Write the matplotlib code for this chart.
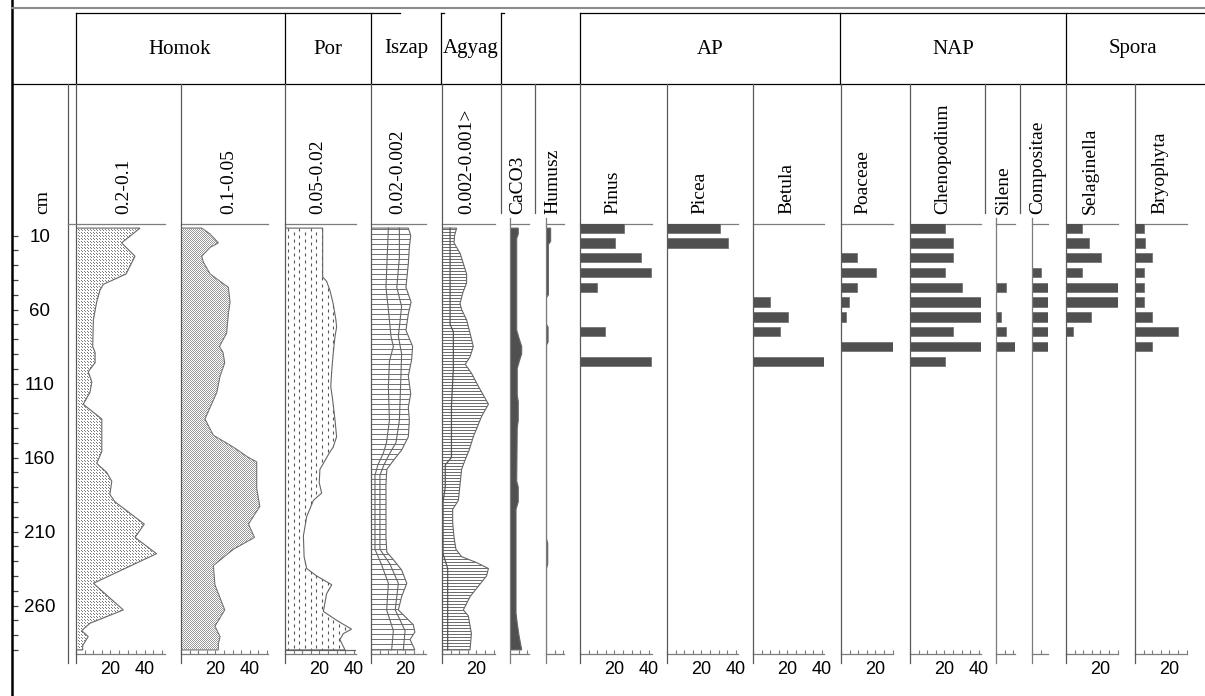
import matplotlib
matplotlib.use('Agg')
import matplotlib.pyplot as plt
import numpy as np
from matplotlib.patches import Polygon
from matplotlib.collections import LineCollection
from matplotlib.ticker import FixedLocator, MultipleLocator

# ---------------------------------------------------------------- data
group_labels = ['Homok', 'Por', 'Iszap', 'Agyag', 'AP', 'NAP', 'Spora']
column_labels = ['0.2-0.1', '0.1-0.05', '0.05-0.02', '0.02-0.002', '0.002-0.001>',
                 'CaCO3', 'Humusz', 'Pinus', 'Picea', 'Betula', 'Poaceae',
                 'Chenopodium', 'Silene', 'Compositae', 'Selaginella', 'Bryophyta']
depth_label = 'cm'
depth_major = [10, 60, 110, 160, 210, 260]
depth_minor = list(range(20, 300, 10))

# sediment fractions (%), depth in cm
h1_depth = [5, 15, 24, 36, 43, 47, 55, 67, 85, 89, 96, 102, 109, 116, 124, 134, 156,
            164, 170, 176, 185, 190, 205, 214, 225, 245, 263, 272, 277, 281, 287, 290]
h1_val = [37.2, 26.5, 34.3, 29.1, 15.9, 13.9, 12.0, 10.1, 9.7, 11.1, 11.1, 7.1, 9.2, 8.1,
          4.2, 15.0, 15.0, 12.0, 17.8, 20.8, 19.7, 22.7, 39.7, 34.3, 46.8, 10.1, 27.5,
          8.1, 3.3, 7.1, 3.9, 3.9]

h2_depth = [5, 9, 15, 18, 24, 28, 36, 41, 45, 55, 63, 76, 85, 89, 96, 105, 116, 134, 145,
            153, 160, 163, 172, 181, 193, 205, 214, 222, 233, 246, 263, 274, 281, 286, 290]
h2_val = [12.0, 16.9, 21.7, 16.9, 12.0, 13.0, 16.9, 22.7, 27.5, 28.5, 27.5, 26.5, 22.3,
          24.4, 25.4, 22.7, 20.8, 13.9, 18.8, 30.4, 39.2, 44.0, 44.0, 44.0, 45.8, 39.2,
          42.7, 30.4, 18.8, 19.7, 25.4, 19.7, 22.7, 21.7, 21.7]

por_depth = [5, 38, 41, 47, 56, 67, 72, 78, 90, 101, 112, 121, 135, 146, 153, 157, 162,
             168, 177, 184, 189, 200, 213, 227, 235, 240, 246, 252, 264, 270, 276, 279,
             283, 290]
por_val = [21.9, 21.9, 24.2, 26.1, 28.0, 29.6, 30.0, 29.1, 28.0, 27.2, 26.6, 27.7, 29.1,
           30.0, 28.0, 25.7, 23.3, 20.3, 19.9, 21.3, 16.5, 12.6, 10.7, 11.1, 12.6, 18.4,
           27.2, 24.2, 22.3, 30.0, 38.7, 33.9, 31.9, 34.9]

iszap_depth = [5, 10, 18, 29, 45, 55, 63, 74, 85, 94, 105, 117, 126, 135, 146, 155, 162,
               168, 178, 200, 214, 224, 229, 236, 245, 254, 263, 273, 278, 283, 290]
iszap_val = [21.7, 23.1, 22.3, 21.7, 20.3, 23.3, 21.7, 20.3, 24.2, 23.6, 21.7, 23.1, 21.7,
             22.3, 21.7, 17.8, 13.0, 9.2, 8.7, 8.7, 8.7, 9.2, 13.0, 17.8, 20.8, 17.8, 15.9,
             24.6, 25.5, 22.7, 25.5]
iszap_in1_depth = [5, 45, 60, 78, 85, 95, 112, 135, 150, 157, 165, 172, 222, 232, 245,
                   263, 277, 290]
iszap_in1_val = [10.1, 8.7, 10.1, 11.6, 13.0, 10.7, 10.1, 10.7, 9.0, 7.2, 4.0, 2.3, 2.3,
                 6.0, 10.1, 9.1, 13.0, 12.0]
iszap_in2_depth = [5, 25, 45, 58, 78, 90, 112, 135, 150, 157, 165, 172, 222, 232, 245,
                   263, 277, 290]
iszap_in2_val = [16.5, 16.5, 15.0, 17.8, 15.9, 17.8, 17.2, 16.5, 14.5, 11.0, 7.5, 5.2, 5.2,
                 11.0, 15.9, 14.1, 19.8, 18.8]

agyag_depth = [5, 10, 15, 22, 29, 36, 42, 49, 56, 60, 67, 76, 85, 92, 97, 103, 112, 124,
               132, 146, 155, 162, 168, 178, 189, 195, 204, 214, 222, 227, 231, 235, 240,
               254, 263, 267, 279, 290]
agyag_val = [8.5, 7.3, 7.0, 10.5, 12.4, 14.3, 14.3, 12.0, 10.5, 11.4, 14.3, 16.3, 18.2,
             16.3, 13.5, 17.1, 21.2, 27.0, 23.1, 18.2, 15.8, 13.3, 11.4, 10.5, 9.5, 6.2,
             6.2, 7.0, 8.1, 11.4, 20.1, 27.0, 25.9, 16.3, 12.4, 15.3, 17.1, 16.3]
agyag_in_depth = [5, 70, 75, 100, 125, 160, 165, 180, 190, 225, 235, 290]
agyag_in_val = [4.7, 4.7, 6.6, 6.6, 5.5, 5.5, 1.9, 1.9, 0.6, 0.6, 3.3, 3.3]

caco3_depth = [5, 9, 12, 74, 80, 85, 90, 95, 100, 118, 122, 135, 140, 176, 180, 190, 195,
               265, 272, 280, 290]
caco3_val = [4.8, 4.8, 3.9, 3.9, 5.4, 6.8, 6.8, 5.4, 4.2, 4.2, 4.8, 4.8, 4.2, 3.9, 4.8,
             4.8, 3.5, 3.5, 4.2, 5.2, 6.8]

humusz_depth = [5, 14, 16, 50, 52, 70, 72, 82, 84, 215, 218, 232, 235, 290]
humusz_val = [2.7, 2.7, 1.4, 1.4, 0.3, 0.3, 1.2, 1.2, 0.3, 0.3, 1.0, 1.0, 0.3, 0.3]

# pollen (%), sample depths
pollen_depth = [5, 15, 25, 35, 45, 55, 65, 75, 85, 95]
pinus = [25.6, 20.3, 35.5, 41.3, 9.7, 0, 0, 14.5, 0, 41.3]
picea = [30.8, 35.7, 0, 0, 0, 0, 0, 0, 0, 0]
betula = [0, 0, 0, 0, 0, 9.7, 20.5, 15.5, 0, 41.3]
poaceae = [0, 0, 9.3, 20.2, 9.3, 4.5, 2.7, 0, 30.2, 0]
chenopodium = [20.3, 25.2, 25.2, 20.3, 30.4, 41.1, 41.1, 25.2, 41.1, 20.3]
silene = [0, 0, 0, 0, 5.8, 0, 2.7, 5.8, 11.0, 0]
compositae = [0, 0, 0, 5.0, 9.5, 9.5, 9.5, 9.5, 9.5, 0]
selaginella = [9.3, 13.4, 20.2, 9.3, 30.2, 30.2, 14.4, 4.1, 0, 0]
bryophyta = [5.2, 6.0, 10.1, 5.2, 5.2, 5.2, 10.1, 25.2, 10.1, 0]

# ---------------------------------------------------------------- layout
W, H = 1205, 696
fig = plt.figure(figsize=(W / 100, H / 100), dpi=100)
fig.patch.set_facecolor('white')

S = 1.72        # px per % unit
DS = 1.48       # px per cm
Y0 = 220.7      # px of depth 0
D_TOP, D_BOT = 2.2, 292.7
GRAY = '#7c7c7c'
BAR = '#505050'
SERIF = ['Liberation Serif', 'DejaVu Serif']
SANS = ['Liberation Sans', 'DejaVu Sans']


def ypx(d):
    return Y0 + DS * d


def add_panel(left_px, xmax, majors):
    x1 = left_px + xmax * S
    yt, yb = ypx(D_TOP), ypx(D_BOT)
    ax = fig.add_axes([left_px / W, 1 - yb / H, (x1 - left_px) / W, (yb - yt) / H])
    ax.set_xlim(0, xmax)
    ax.set_ylim(D_BOT, D_TOP)
    ax.patch.set_visible(False)
    for s in ['left', 'right']:
        ax.spines[s].set_visible(False)
    for s in ['top', 'bottom']:
        ax.spines[s].set_color(GRAY)
        ax.spines[s].set_linewidth(0.9)
    ax.set_yticks([])
    ax.xaxis.set_major_locator(FixedLocator(majors))
    ax.xaxis.set_minor_locator(MultipleLocator(5))
    ax.tick_params(axis='x', which='both', direction='in', length=3, width=0.8,
                   color=GRAY, labelsize=13, pad=5)
    ax.set_xticklabels([str(m) for m in majors], fontfamily=SANS)
    return ax


def sediment(ax, depth, val, face='white'):
    pts = [(0, depth[0])] + list(zip(val, depth)) + [(0, depth[-1])]
    poly = Polygon(pts, closed=True, facecolor=face, edgecolor='#666666', lw=0.8, zorder=3)
    ax.add_patch(poly)
    return poly


def px_grid(ax, dx, dy, stagger):
    x0, x1 = ax.get_xlim()
    wpx = (x1 - x0) * S
    ys = np.arange(ypx(5), ypx(290) + 1, dy)
    xs_all, ys_all = [], []
    for i, y in enumerate(ys):
        off = (dx / 2) if (stagger and i % 2) else 0
        xs = np.arange(off, wpx, dx)
        xs_all.append(xs / S)
        ys_all.append(np.full(len(xs), (y - Y0) / DS))
    return np.concatenate(xs_all), np.concatenate(ys_all)


def dots(ax, poly, dx, dy, color, stagger=True):
    xs, ys = px_grid(ax, dx, dy, stagger)
    ax.plot(xs, ys, ls='none', marker=',', color=color, clip_path=poly, zorder=4)


def hlines(ax, poly, step, color, lw=0.7):
    x0, x1 = ax.get_xlim()
    ys = np.arange(ypx(5) + 1, ypx(290), step)
    segs = [[(0, (y - Y0) / DS), (x1, (y - Y0) / DS)] for y in ys]
    lc = LineCollection(segs, colors=color, linewidths=lw, zorder=4)
    ax.add_collection(lc)
    lc.set_clip_path(poly)


def dashes(ax, poly, dx, dy, dl, color):
    x0, x1 = ax.get_xlim()
    wpx = x1 * S
    segs = []
    for j, x in enumerate(np.arange(dx / 2, wpx, dx)):
        off = dy / 2 if j % 2 else 0
        for y in np.arange(ypx(5) + off, ypx(290), dy):
            segs.append([(x / S, (y - Y0) / DS), (x / S, (y + dl - Y0) / DS)])
    lc = LineCollection(segs, colors=color, linewidths=0.8, zorder=4)
    ax.add_collection(lc)
    lc.set_clip_path(poly)


# ---------------------------------------------------------------- panels
# 0.2-0.1
ax = add_panel(76, 51.7, [20, 40])
p = sediment(ax, h1_depth, h1_val)
dots(ax, p, 3.0, 1.5, '#7a7a7a')
# 0.1-0.05
ax = add_panel(181, 50.6, [20, 40])
p = sediment(ax, h2_depth, h2_val)
dots(ax, p, 2.0, 1.0, '#9a9a9a')
# Por
ax = add_panel(285, 41.3, [20, 40])
p = sediment(ax, por_depth, por_val)
dashes(ax, p, 5.7, 7.0, 3.0, '#555555')
ax.plot([0, 41.3], [290, 290], color='#666666', lw=0.9, zorder=5)
# Iszap
ax = add_panel(371, 32.0, [20])
p = sediment(ax, iszap_depth, iszap_val)
hlines(ax, p, 5.0, '#707070')
ax.plot(iszap_in1_val, iszap_in1_depth, color='#666666', lw=0.8, zorder=5)
ax.plot(iszap_in2_val, iszap_in2_depth, color='#666666', lw=0.8, zorder=5)
# Agyag
ax = add_panel(442, 30.8, [20])
p = sediment(ax, agyag_depth, agyag_val)
hlines(ax, p, 3.0, '#6a6a6a')
ax.plot(agyag_in_val, agyag_in_depth, color='#555555', lw=0.9, zorder=5)
# CaCO3
ax = add_panel(510, 11.0, [])
sediment(ax, caco3_depth, caco3_val, face=BAR)
# Humusz
ax = add_panel(546, 10.5, [])
sediment(ax, humusz_depth, humusz_val, face=BAR)

pollen_specs = [
    (pinus, 580, 41.9, [20, 40]),
    (picea, 667, 41.5, [20, 40]),
    (betula, 753, 41.5, [20, 40]),
    (poaceae, 841, 30.4, [20]),
    (chenopodium, 910, 41.3, [20, 40]),
    (silene, 996, 11.0, []),
    (compositae, 1032, 9.5, []),
    (selaginella, 1066, 30.4, [20]),
    (bryophyta, 1135, 30.4, [20]),
]
for vals, left, xmax, majors in pollen_specs:
    ax = add_panel(left, xmax, majors)
    ax.barh(pollen_depth, vals, height=6.3, color=BAR, edgecolor='#6a6a6a',
            linewidth=0.5, zorder=3)

# depth axis
axd = fig.add_axes([12 / W, 1 - ypx(D_BOT) / H, (68 - 12) / W, (ypx(D_BOT) - ypx(D_TOP)) / H])
axd.set_ylim(D_BOT, D_TOP)
axd.patch.set_visible(False)
for s in axd.spines.values():
    s.set_visible(False)
axd.set_xticks([])
axd.yaxis.set_major_locator(FixedLocator(depth_major))
axd.yaxis.set_minor_locator(FixedLocator(depth_minor))
axd.set_yticklabels([str(d) for d in depth_major], fontfamily=SANS)
axd.tick_params(axis='y', which='both', direction='in', length=4, width=0.9,
                color='#404040', labelsize=13.5, pad=-20)
for t in axd.get_yticklabels():
    t.set_ha('center')

# ---------------------------------------------------------------- overlay frame
ov = fig.add_axes([0, 0, 1, 1])
ov.set_xlim(0, W)
ov.set_ylim(H, 0)
ov.axis('off')
ov.patch.set_visible(False)
ov.set_zorder(10)

K = 'black'
ov.plot([12, 12], [0, H], color=K, lw=1.8)
ov.plot([12, W], [8, 8], color='#8a8a8a', lw=1.5)
ov.plot([76, 400], [13, 13], color=K, lw=0.9)
ov.plot([580, W], [13, 13], color=K, lw=0.9)
ov.plot([441, 444], [13, 13], color=K, lw=0.9)
ov.plot([501, 504], [13, 13], color=K, lw=0.9)
ov.plot([12, W], [84, 84], color=K, lw=0.9)
for x in [76, 285, 371, 441, 501, 580, 840, 1066]:
    ov.plot([x, x], [13, 84], color=K, lw=0.9)

# row-2 separators that continue as panel axes
for x in [68, 76, 181, 285, 371, 442, 580, 667, 753, 841, 910, 1066, 1135]:
    ov.plot([x, x], [84, 663], color='#5a5a5a', lw=0.9)
# separators that stop above the panels
for x in [501, 535, 985, 1020]:
    ov.plot([x, x], [84, 213], color='#5a5a5a', lw=0.9)
# short panel axes
for x in [510, 546, 996, 1032]:
    ov.plot([x, x], [218, 663], color=GRAY, lw=0.9)
ov.plot([68, 76], [224, 224], color=GRAY, lw=0.9)

# group headers
group_x = [180, 328, 406, 471, 710, 953, 1133]
for lab, x in zip(group_labels, group_x):
    ov.text(x, 49, lab, ha='center', va='center', fontsize=15, fontfamily=SERIF)

# column labels
col_x = [124, 229, 318, 398, 467, 518, 553, 613, 700, 787, 863, 943, 1003, 1038, 1090, 1160]
for lab, x in zip(column_labels, col_x):
    ov.text(x, 214, lab, rotation=90, ha='center', va='bottom', fontsize=14,
            fontfamily=SERIF)
ov.text(43, 214, depth_label, rotation=90, ha='center', va='bottom', fontsize=14,
        fontfamily=SERIF)

fig.savefig('out.png', dpi=100, facecolor='white')
